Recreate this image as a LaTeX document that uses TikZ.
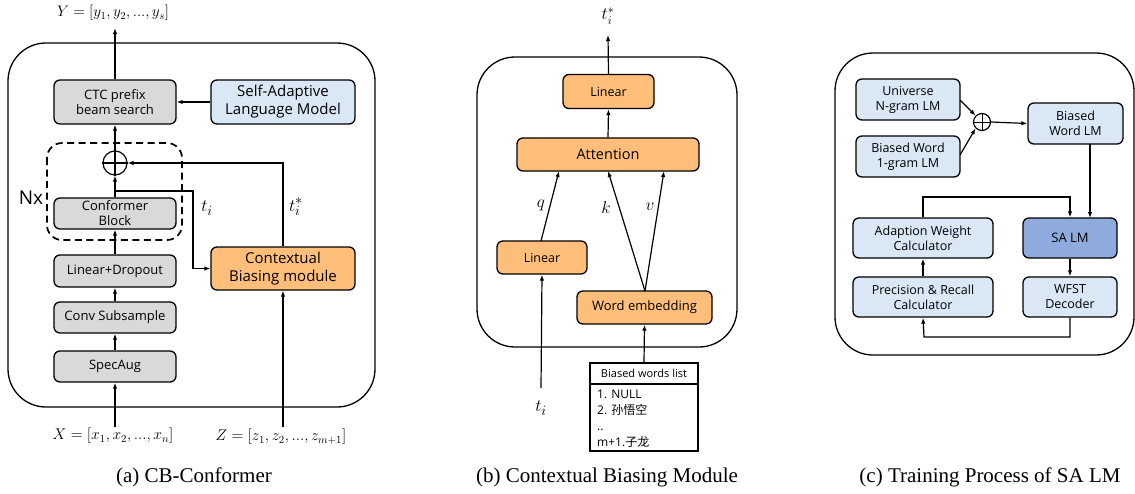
\documentclass[tikz,border=0pt]{standalone}
\usepackage{fontspec}
\newfontfamily\yh{Open Sans}
\newfontfamily\cjk{Noto Sans CJK SC}
\newfontfamily\tnr{Liberation Serif}
\usetikzlibrary{arrows.meta,calc}
\definecolor{gfill}{HTML}{D9D9D9}
\definecolor{lbfill}{HTML}{DAE8F6}
\definecolor{ofill}{HTML}{FFBF7A}
\definecolor{dbfill}{HTML}{8FAADC}
\begin{document}
\begin{tikzpicture}[x=1pt,y=-1pt,
  box/.style={draw,line width=1.3pt,rounded corners=6pt,align=center,inner sep=0pt},
  gbox/.style={box,fill=gfill,font=\yh\fontsize{13}{15}\selectfont},
  lbox/.style={box,fill=lbfill,font=\yh\fontsize{12.5}{15}\selectfont},
  obox/.style={box,fill=ofill},
  outer/.style={draw,line width=1.3pt,rounded corners=38pt},
  arr/.style={line width=1.2pt,-{Latex[length=6pt,width=4.5pt]}},
  ln/.style={line width=1.2pt},
  mlab/.style={font=\fontsize{14.4}{16}\selectfont,inner sep=1pt},
  slab/.style={font=\fontsize{19}{21}\selectfont,inner sep=1pt},
  captxt/.style={font=\tnr\fontsize{21}{23}\selectfont},
  opl/.style={circle,draw,line width=1.2pt,inner sep=0pt}
]
\useasboundingbox (0,0) rectangle (1135,493);

% ---------------- (a)
\draw[outer] (8,43) rectangle (375,407);
\node[gbox,minimum width=122pt,minimum height=44pt] (ctc) at (115,102) {CTC prefix\\beam search};
\node[box,fill=lbfill,font=\yh\fontsize{15}{18}\selectfont,minimum width=144pt,minimum height=44pt] (sal) at (283,102) {Self-Adaptive\\Language Model};
\node[opl,minimum size=24pt] (op1) at (115,163) {};
\draw[ln] (op1.north) -- (op1.south) (op1.west) -- (op1.east);
\node[gbox,minimum width=122pt,minimum height=31pt] (conf) at (115,213.5) {Conformer\\Block};
\node[gbox,minimum width=122pt,minimum height=32pt] (lin) at (115,271) {Linear+Dropout};
\node[gbox,minimum width=122pt,minimum height=31pt] (conv) at (115,317.5) {Conv Subsample};
\node[gbox,minimum width=122pt,minimum height=31pt] (spec) at (115,366.5) {SpecAug};
\node[obox,font=\yh\fontsize{15}{18}\selectfont,minimum width=144pt,minimum height=43pt] (cbm) at (283,268.5) {Contextual\\Biasing module};
\draw[line width=1.7pt,dash pattern=on 7pt off 4.5pt,rounded corners=15pt] (47,143) rectangle (182,240);
\node[font=\yh\fontsize{19}{22}\selectfont] (nx) at (31,198) {Nx};
\node[mlab] (Y) at (113,13) {\scalebox{1.06}{$Y=[y_1,y_2,...,y_s]$}};
\node[mlab] (X) at (113,436) {\scalebox{1.08}{$X=[x_1,x_2,...,x_n]$}};
\node[mlab] (Z) at (281,437) {\scalebox{1.08}{$Z=[z_1,z_2,...,z_{m+1}]$}};
\node[slab] (ti) at (207,208) {$t_i$};
\node[slab] (tis) at (296,207) {$t_i^*$};
\coordinate (ytop) at (115,28);
\coordinate (xbot) at (115,427);
\coordinate (zbot) at (283,427);
\coordinate (br) at (115,191);
\coordinate (brc) at (193,268.5);
\draw[arr] (ctc.north) -- (ytop);
\draw[arr] (sal.west) -- (ctc.east);
\draw[arr] (op1.north) -- (ctc.south);
\draw[arr] (conf.north) -- (op1.south);
\draw[arr] (lin.north) -- (conf.south);
\draw[arr] (conv.north) -- (lin.south);
\draw[arr] (spec.north) -- (conv.south);
\draw[arr] (xbot) -- (spec.south);
\draw[arr] (zbot) -- (cbm.south);
\draw[arr] (br) -| (brc) -- (cbm.west);
\draw[arr] (cbm.north) |- (op1.east);
\node[captxt] (capa) at (194,477) {(a) CB-Conformer};

% ---------------- (b)
\draw[outer] (477,57) rectangle (737,347);
\node[obox,font=\yh\fontsize{12.5}{15}\selectfont,minimum width=91pt,minimum height=34pt] (l1) at (608.5,91.5) {Linear};
\node[obox,font=\yh\fontsize{14.5}{17}\selectfont,minimum width=182pt,minimum height=33pt] (att) at (608,154.5) {Attention};
\node[obox,font=\yh\fontsize{12.5}{15}\selectfont,minimum width=90pt,minimum height=33pt] (l2) at (542,257.5) {Linear};
\node[obox,font=\yh\fontsize{13}{15}\selectfont,minimum width=135pt,minimum height=33pt] (we) at (644.5,307.5) {Word embedding};
\node[draw,line width=1.6pt,minimum width=108pt,minimum height=88pt,inner sep=0pt] (lst) at (644,407) {};
\draw[line width=1.6pt] (590,384) -- (698,384);
\node[font=\yh\fontsize{11}{13}\selectfont] (lsth) at (644,373.5) {Biased words list};
\node[font=\yh\fontsize{12}{16}\selectfont,align=left,anchor=north west,inner sep=0pt] (lstb) at (597,390) {1. NULL\\2. {\cjk 孙悟空}\\..\\m+1.{\cjk 子龙}};
\node[font=\fontsize{17}{19}\selectfont,inner sep=1pt] (tso) at (608,16) {$t_i^*$};
\node[slab] (tib) at (541,408) {$t_i$};
\node[font=\fontsize{18}{20}\selectfont,inner sep=1pt] (q) at (541,205) {$q$};
\node[font=\fontsize{18}{20}\selectfont,inner sep=1pt] (k) at (606,207) {$k$};
\node[font=\fontsize{18}{20}\selectfont,inner sep=1pt] (v) at (650,207) {$v$};
\coordinate (ttop) at (608,35);
\coordinate (tbot) at (541,388);
\coordinate (qs) at (541,241);
\coordinate (qe) at (559,171);
\coordinate (ws) at (645,291);
\coordinate (ke) at (608,171);
\coordinate (ve) at (664,171);
\draw[arr] (l1.north) -- (ttop);
\draw[arr] (att.north) -- (l1.south);
\draw[arr] (qs) -- (qe);
\draw[arr] (ws) -- (ke);
\draw[arr] (ws) -- (ve);
\draw[arr] (tbot) -- (l2.south);
\draw[arr] (lst.north) -- (we.south);
\node[captxt] (capb) at (607,477) {(b) Contextual Biasing Module};

% ---------------- (c)
\draw[outer] (835,53) rectangle (1134,355);
\node[lbox,minimum width=104pt,minimum height=41pt] (uni) at (908,99.5) {Universe\\N-gram LM};
\node[lbox,minimum width=104pt,minimum height=41pt] (bw1) at (908,156.5) {Biased Word\\1-gram LM};
\node[opl,minimum size=17pt] (op2) at (982,122) {};
\draw[line width=1pt] (op2.north) -- (op2.south) (op2.west) -- (op2.east);
\node[lbox,minimum width=95pt,minimum height=41pt] (bwlm) at (1075.5,123.5) {Biased\\Word LM};
\node[box,fill=dbfill,font=\yh\fontsize{13}{15}\selectfont,minimum width=94pt,minimum height=40pt] (salm) at (1070,238) {SA LM};
\node[lbox,minimum width=140pt,minimum height=40pt] (adw) at (923,238) {Adaption Weight\\Calculator};
\node[lbox,minimum width=140pt,minimum height=40pt] (prc) at (923,297) {Precision \& Recall\\Calculator};
\node[lbox,minimum width=94pt,minimum height=40pt] (wfst) at (1070,297) {WFST\\Decoder};
\coordinate (u1) at (960,100);
\coordinate (b1) at (960,155);
\coordinate (bws) at (1090,144);
\coordinate (sat) at (1090,218);
\coordinate (fb) at (1070,197);
\coordinate (lp) at (924,337);
\draw[arr] (u1) -- (op2.north west);
\draw[arr] (b1) -- (op2.south west);
\draw[arr] (op2.east) -- (bwlm.west);
\draw[arr] (bws) -- (sat);
\draw[arr] (adw.north) |- (fb) -- (salm.north);
\draw[arr] (salm.south) -- (wfst.north);
\draw[arr] (wfst.south) |- (lp) -- (prc.south);
\draw[arr] (prc.north) -- (adw.south);
\node[captxt] (capc) at (990,477) {(c) Training Process of SA LM};
\end{tikzpicture}
\end{document}
